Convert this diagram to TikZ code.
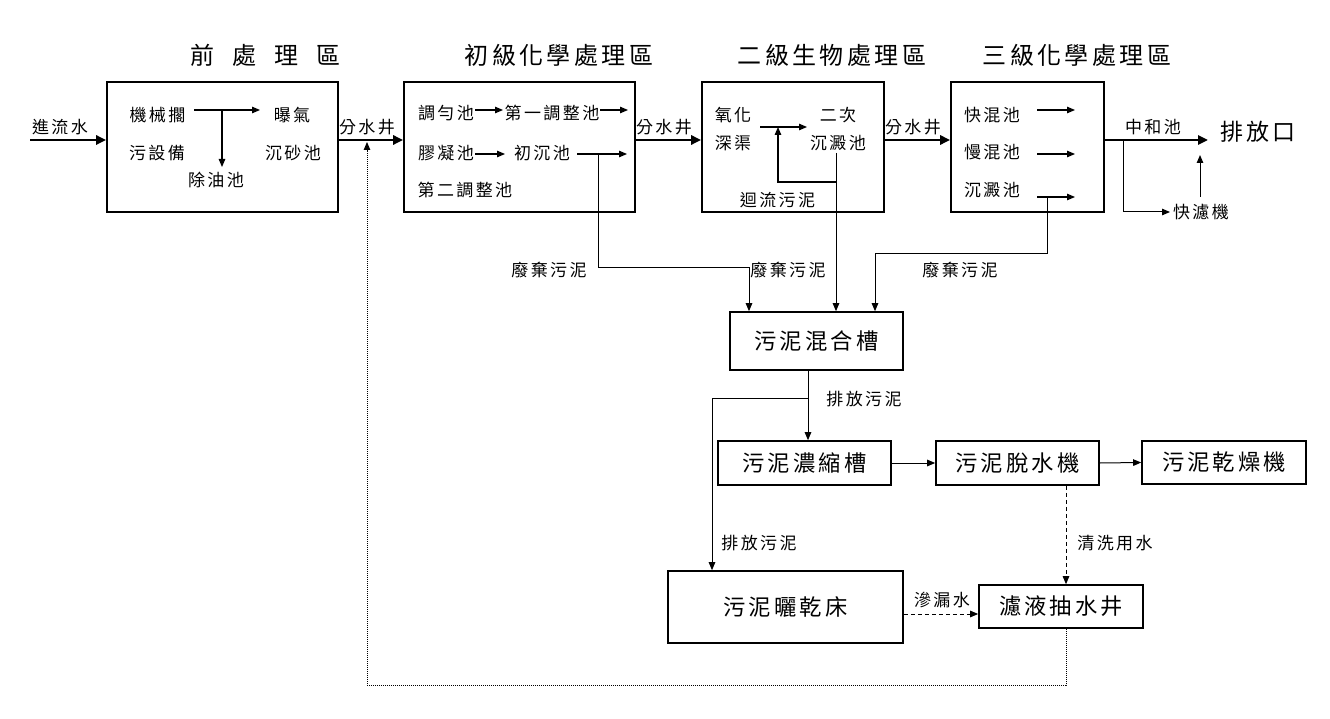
\documentclass[tikz,border=0pt]{standalone}
\usepackage{fontspec}
\setmainfont{Noto Sans CJK TC}[LetterSpace=14]
\usetikzlibrary{arrows.meta,calc}
\tikzset{
  box/.style={draw, line width=1.6pt, inner sep=0pt},
  arr/.style={line width=1.2pt, -{Triangle[length=8pt,width=6.5pt]}},
  warr/.style={line width=1pt, -{Triangle[length=8pt,width=6.5pt]}},
  thickarr/.style={line width=2.6pt, -{Triangle[length=10pt,width=9pt]}},
  lbl/.style={font=\fontsize{17}{20}\selectfont, inner sep=0pt},
  big/.style={font=\fontsize{22.3}{26}\selectfont, inner sep=0pt},
  ttl/.style={font=\fontsize{24}{28}\selectfont, inner sep=0pt},
}
\begin{document}
\begin{tikzpicture}[x=1pt,y=-1pt]
\useasboundingbox (0,0) rectangle (1330,719);
% titles
\node[ttl] (t1) at (265,55) {前\hspace{18pt}處\hspace{18pt}理\hspace{18pt}區};
\node[ttl] (t2) at (559,55) {初級化學處理區};
\node[ttl] (t3) at (832,55) {二級生物處理區};
\node[ttl] (t4) at (1077,55) {三級化學處理區};
% main boxes
\node[box, minimum width=231pt, minimum height=130pt] (b1) at (222.5,147) {};
\node[box, minimum width=231pt, minimum height=130pt] (b2) at (519.5,147) {};
\node[box, minimum width=182pt, minimum height=130pt] (b3) at (793,147) {};
\node[box, minimum width=153pt, minimum height=130pt] (b4) at (1027.5,147) {};
\coordinate (my) at (0,140);
% inlet
\coordinate (in) at (30,140);
\node[lbl] (lin) at (60,127) {進流水};
\draw[thickarr] (in) -- (b1.west |- my);
% box1 contents
\node[lbl] (a1) at (157.5,115) {機械擱};
\node[lbl] (a2) at (157,153) {污設備};
\node[lbl] (a3) at (216,180) {除油池};
\node[lbl] (a4) at (292,115) {曝氣};
\node[lbl] (a5) at (293,153) {沉砂池};
\coordinate (a1s) at (194,110);
\coordinate (a1e) at (260,110);
\coordinate (a1j) at (222,110);
\coordinate (a3t) at (222,167);
\draw[arr] (a1s) -- (a1e);
\draw[arr] (a1j) -- (a3t);
% b1 -> b2
\node[lbl] (s1) at (367,127) {分水井};
\draw[thickarr] (b1.east |- my) -- (b2.west |- my);
% box2 contents
\node[lbl] (c1) at (446,113) {調勻池};
\node[lbl] (c2) at (552,113) {第一調整池};
\node[lbl] (c3) at (446,153) {膠凝池};
\node[lbl] (c4) at (542,153) {初沉池};
\node[lbl] (c5) at (465,190) {第二調整池};
\coordinate (c1a) at (475,110); \coordinate (c1b) at (503,110);
\coordinate (c2a) at (600,110); \coordinate (c2b) at (628,110);
\coordinate (c3a) at (475,154); \coordinate (c3b) at (505,154);
\coordinate (c4a) at (577,154); \coordinate (c4b) at (627,154);
\draw[arr] (c1a) -- (c1b);
\draw[arr] (c2a) -- (c2b);
\draw[arr] (c3a) -- (c3b);
\draw[arr] (c4a) -- (c4b);
% b2 -> b3
\node[lbl] (s2) at (664,127) {分水井};
\draw[thickarr] (b2.east |- my) -- (b3.west |- my);
% box3 contents
\node[lbl] (d1) at (733,115) {氧化};
\node[lbl] (d2) at (733,143) {深渠};
\node[lbl] (d3) at (838,115) {二次};
\node[lbl] (d4) at (838,143) {沉澱池};
\node[lbl] (d5) at (777.5,200) {迴流污泥};
\coordinate (d1a) at (760,127); \coordinate (d1b) at (807,127);
\draw[arr] (d1a) -- (d1b);
\coordinate (d4a) at (836,153);
\coordinate (d4j) at (836,182);
\coordinate (d4r) at (778,127);
\draw[arr] (d4j) -| (d4r);
% b3 -> b4
\node[lbl] (s3) at (913,127) {分水井};
\draw[thickarr] (b3.east |- my) -- (b4.west |- my);
% box4 contents
\node[lbl] (e1) at (992,115) {快混池};
\node[lbl] (e2) at (992,152) {慢混池};
\node[lbl] (e3) at (992,190) {沉澱池};
\coordinate (e1a) at (1037,110); \coordinate (e1b) at (1075,110);
\coordinate (e2a) at (1037,154); \coordinate (e2b) at (1075,154);
\coordinate (e3a) at (1037,197); \coordinate (e3b) at (1075,197);
\draw[arr] (e1a) -- (e1b);
\draw[arr] (e2a) -- (e2b);
\draw[arr] (e3a) -- (e3b);
% outlet
\node[lbl] (n1) at (1153,127) {中和池};
\node[font=\fontsize{23}{27}\selectfont, inner sep=0pt] (out) at (1258,132) {排放口};
\coordinate (oute) at (1208,140);
\draw[thickarr] (b4.east |- my) -- (oute);
\node[lbl] (f1) at (1201,212) {快濾機};
\coordinate (fj) at (1123,140);
\coordinate (fa) at (1170,212);
\draw[warr] (fj) |- (fa);
\coordinate (fu1) at (1200,197);
\coordinate (fu2) at (1200,155);
\draw[warr] (fu1) -- (fu2);
% sludge mixing tank
\node[box, big, minimum width=173pt, minimum height=58pt] (mix) at (816.5,341) {污泥混合槽};
\node[lbl] (w1) at (549,270) {廢棄污泥};
\node[lbl] (w2) at (788,270) {廢棄污泥};
\node[lbl] (w3) at (960,270) {廢棄污泥};
\coordinate (p1a) at (598,154);
\coordinate (p1b) at (749,268);
\draw[warr] (p1a) |- (p1b) -- (p1b |- mix.north);
\draw[warr] (d4a) -- (d4a |- mix.north);
\coordinate (p3a) at (1047,197);
\coordinate (p3b) at (875,254);
\draw[warr] (p3a) |- (p3b) -- (p3b |- mix.north);
% lower boxes
\node[box, big, minimum width=173pt, minimum height=44pt] (thick) at (804.5,463) {污泥濃縮槽};
\node[box, big, minimum width=163pt, minimum height=44pt] (dew) at (1017.5,463) {污泥脫水機};
\node[box, big, minimum width=164pt, minimum height=43pt] (dry) at (1224,462.5) {污泥乾燥機};
\node[box, big, minimum width=235pt, minimum height=72pt] (bed) at (785.5,607) {污泥曬乾床};
\node[box, big, minimum width=164pt, minimum height=43pt] (well) at (1061,606.5) {濾液抽水井};
\coordinate (mx) at (808,0);
\coordinate (mj) at (808,398);
\coordinate (bx) at (712,398);
\draw[warr] (mix.south -| mx) -- (thick.north -| mx);
\draw[warr] (mj) -- (bx) -- (bx |- bed.north);
\node[lbl] (l1) at (864,399) {排放污泥};
\node[lbl] (l2) at (759,543) {排放污泥};
\draw[warr] (thick.east) -- (dew.west);
\draw[warr] (dew.east) -- (dry.west);
\coordinate (cx) at (1066,0);
\draw[warr, dash pattern=on 4pt off 3pt] (dew.south -| cx) -- (well.north -| cx);
\node[lbl] (l3) at (1115,543) {清洗用水};
\coordinate (ly) at (0,614);
\draw[warr, dash pattern=on 4pt off 3pt] (bed.east |- ly) -- (well.west |- ly);
\node[lbl] (l4) at (942,600) {滲漏水};
\coordinate (r1) at (1066,685);
\coordinate (r2) at (367,685);
\coordinate (r3) at (367,142);
\draw[line width=0.9pt, dash pattern=on 1pt off 1pt, -{Triangle[length=8pt,width=6.5pt]}] (well.south -| cx) -- (r1) -- (r2) -- (r3);
\end{tikzpicture}
\end{document}
